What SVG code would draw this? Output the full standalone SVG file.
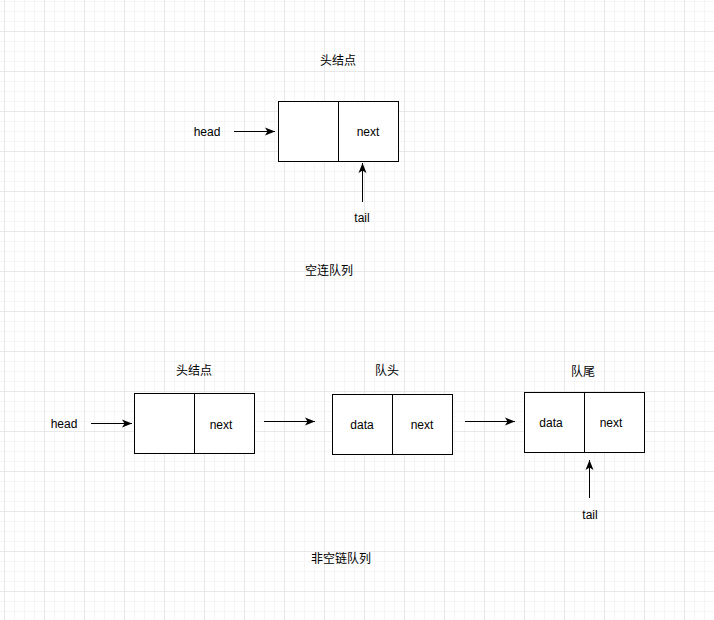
<svg xmlns="http://www.w3.org/2000/svg" width="714" height="620" viewBox="0 0 714 620">
<defs>
<pattern id="minor" width="10" height="10" patternUnits="userSpaceOnUse" x="4" y="1">
<path d="M0,0.5 H10 M0.5,0 V10" fill="none" stroke="#f5f5f5" stroke-width="1"/>
</pattern>
<pattern id="major" width="40" height="40" patternUnits="userSpaceOnUse" x="4" y="31">
<path d="M0,0.5 H40 M0.5,0 V40" fill="none" stroke="#e8e8e8" stroke-width="1"/>
</pattern>
<marker id="arr" viewBox="0 0 10 10" refX="10" refY="5" markerWidth="10" markerHeight="10" markerUnits="userSpaceOnUse" orient="auto">
<path d="M0,1 L10,5 L0,9 L2.5,5 z" fill="#000"/>
</marker>
</defs>
<style>
.box{fill:#fff;stroke:#000;stroke-width:1}
.div{stroke:#000;stroke-width:1}
.t{font-family:"Liberation Sans","Noto Sans CJK SC",sans-serif;font-size:12px;fill:#000;text-anchor:middle;dominant-baseline:central}
.c{stroke:#000;stroke-width:1;fill:none;marker-end:url(#arr)}
</style>
<rect width="714" height="620" fill="#fff"/>
<rect width="714" height="620" fill="url(#minor)"/>
<rect width="714" height="620" fill="url(#major)"/>

<g id="title-top"><text class="t" x="338" y="61">头结点</text></g>
<g id="head-top"><text class="t" x="207" y="132">head</text></g>
<g id="node-top">
<rect class="box" x="278.5" y="101.5" width="120" height="60"/>
<line class="div" x1="338.5" y1="101.5" x2="338.5" y2="161.5"/>
<text class="t" x="368" y="132">next</text>
</g>
<g id="tail-top"><text class="t" x="362" y="218">tail</text></g>
<g id="caption-top"><text class="t" x="329" y="271">空连队列</text></g>

<g id="title-b1"><text class="t" x="194" y="371">头结点</text></g>
<g id="head-b"><text class="t" x="64" y="424">head</text></g>
<g id="node-b1">
<rect class="box" x="134.5" y="393.5" width="120" height="60"/>
<line class="div" x1="194.5" y1="393.5" x2="194.5" y2="453.5"/>
<text class="t" x="221" y="425">next</text>
</g>
<g id="title-b2"><text class="t" x="387" y="371">队头</text></g>
<g id="node-b2">
<rect class="box" x="332.5" y="394.5" width="120" height="60"/>
<line class="div" x1="392.5" y1="394.5" x2="392.5" y2="454.5"/>
<text class="t" x="362" y="425">data</text>
<text class="t" x="422" y="425">next</text>
</g>
<g id="title-b3"><text class="t" x="583" y="372">队尾</text></g>
<g id="node-b3">
<rect class="box" x="524.5" y="392.5" width="120" height="60"/>
<line class="div" x1="584.5" y1="392.5" x2="584.5" y2="452.5"/>
<text class="t" x="551" y="423">data</text>
<text class="t" x="611" y="423">next</text>
</g>
<g id="tail-b"><text class="t" x="590" y="515">tail</text></g>
<g id="caption-b"><text class="t" x="341" y="559">非空链队列</text></g>

<g id="connectors">
<line class="c" x1="234" y1="131.5" x2="275" y2="131.5"/>
<line class="c" x1="362.5" y1="202" x2="362.5" y2="163"/>
<line class="c" x1="91" y1="423.5" x2="132" y2="423.5"/>
<line class="c" x1="264" y1="421.5" x2="315" y2="421.5"/>
<line class="c" x1="465" y1="421.5" x2="515" y2="421.5"/>
<line class="c" x1="589.5" y1="498" x2="589.5" y2="460"/>
</g>
</svg>
